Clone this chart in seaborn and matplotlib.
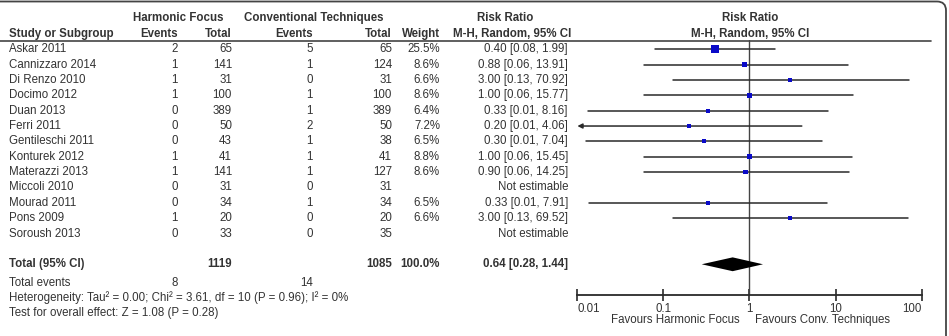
import numpy as np
import pandas as pd
import seaborn as sns
import matplotlib.pyplot as plt
from matplotlib import transforms
from matplotlib.patches import FancyBboxPatch
from matplotlib.lines import Line2D

# ---- data -------------------------------------------------------------------
studies = ["Askar 2011", "Cannizzaro 2014", "Di Renzo 2010", "Docimo 2012", "Duan 2013",
           "Ferri 2011", "Gentileschi 2011", "Konturek 2012", "Materazzi 2013", "Miccoli 2010",
           "Mourad 2011", "Pons 2009", "Soroush 2013"]
hf_events = [2, 1, 1, 1, 0, 0, 0, 1, 1, 0, 0, 1, 0]
hf_total = [65, 141, 31, 100, 389, 50, 43, 41, 141, 31, 34, 20, 33]
ct_events = [5, 1, 0, 1, 1, 2, 1, 1, 1, 0, 1, 0, 0]
ct_total = [65, 124, 31, 100, 389, 50, 38, 41, 127, 31, 34, 20, 35]
weight = [25.5, 8.6, 6.6, 8.6, 6.4, 7.2, 6.5, 8.8, 8.6, np.nan, 6.5, 6.6, np.nan]
rr = [0.40, 0.88, 3.00, 1.00, 0.33, 0.20, 0.30, 1.00, 0.90, np.nan, 0.33, 3.00, np.nan]
ci_low = [0.08, 0.06, 0.13, 0.06, 0.0134, 0.0098, 0.0128, 0.06, 0.06, np.nan, 0.0138, 0.13, np.nan]
ci_high = [1.99, 13.91, 70.92, 15.77, 8.16, 4.06, 7.04, 15.45, 14.25, np.nan, 7.91, 69.52, np.nan]

total_hf_n, total_ct_n = 1119, 1085
total_hf_ev, total_ct_ev = 8, 14
total_rr, total_low, total_high = 0.64, 0.28, 1.44

x_ticks = [0.01, 0.1, 1, 10, 100]
x_ticklabels = ["0.01", "0.1", "1", "10", "100"]

df = pd.DataFrame({"study": studies, "rr": rr, "lo": ci_low, "hi": ci_high, "w": weight})
df["row"] = np.arange(len(df))
total_row = len(df) + 1

# ---- style ------------------------------------------------------------------
sns.set_theme(style="white")
plt.rcParams["font.family"] = ["Liberation Sans", "DejaVu Sans"]
TXT = "#333333"
LINE = "#2a2a2a"
BLUE = "#0a0ac8"
W, H = 949, 336
FS = 8.3

fig = plt.figure(figsize=(W / 100, H / 100), dpi=100)
ax = fig.add_axes([577 / W, 1 - 295 / H, (921.7 - 577) / W, 255 / H])
ax.set_xscale("log")
ax.set_xlim(0.01, 100)
ax.set_ylim(16.0, -0.6)

# CI lines
est = df.dropna(subset=["rr"])
for _, r in est.iterrows():
    if r["lo"] < 0.01:
        ax.annotate("", xy=(0.0101, r["row"]), xytext=(r["hi"], r["row"]),
                    arrowprops=dict(arrowstyle="-|>", color=LINE, lw=1.1,
                                    mutation_scale=7, shrinkA=0, shrinkB=0))
    else:
        ax.plot([r["lo"], r["hi"]], [r["row"], r["row"]], color=LINE, lw=1.1)

# study squares sized by weight
sns.scatterplot(data=est, x="rr", y="row", size="w", sizes=(8, 31), size_norm=(6.4, 25.5),
                marker="s", color=BLUE, linewidth=0, legend=False, ax=ax, zorder=3)

# pooled diamond
dh = 0.45
ax.fill([total_low, total_rr, total_high, total_rr],
        [total_row, total_row - dh, total_row, total_row + dh], color="black", lw=0, zorder=3)

ax.axvline(1, color="#444444", lw=1.0, zorder=1)

for s in ["top", "left", "right"]:
    ax.spines[s].set_visible(False)
ax.spines["bottom"].set_color(LINE)
ax.spines["bottom"].set_linewidth(1.3)
ax.set_yticks([])
ax.set_xticks(x_ticks)
ax.set_xticklabels(x_ticklabels)
ax.minorticks_off()
ax.tick_params(axis="x", direction="inout", length=9, width=1.2, pad=1, labelsize=FS,
               colors=LINE, labelcolor=TXT, bottom=True)
labels = ax.get_xticklabels()
labels[0].set_horizontalalignment("left")
labels[-1].set_horizontalalignment("right")
ax.set_xlabel("")
ax.set_ylabel("")
ax.patch.set_alpha(0)

# ---- table text -------------------------------------------------------------
trans = transforms.blended_transform_factory(fig.transFigure, ax.transData)


def cell(x, row, s, ha="right", bold=False):
    fig.text(x / W, row, s, transform=trans, ha=ha, va="center", fontsize=FS,
             color=TXT, fontweight="bold" if bold else "normal")


def ftext(x, y, s, ha="left", bold=False):
    fig.text(x / W, 1 - y / H, s, ha=ha, va="center", fontsize=FS, color=TXT,
             fontweight="bold" if bold else "normal")


for i in range(len(df)):
    cell(9, i, studies[i], ha="left")
    cell(178, i, str(hf_events[i]))
    cell(232, i, str(hf_total[i]))
    cell(313, i, str(ct_events[i]))
    cell(392, i, str(ct_total[i]))
    if np.isnan(rr[i]):
        cell(568, i, "Not estimable")
    else:
        cell(440, i, f"{weight[i]:.1f}%")
        cell(568, i, f"{rr[i]:.2f} [{ci_low[i]:.2f}, {ci_high[i]:.2f}]")

cell(9, total_row, "Total (95% CI)", ha="left", bold=True)
cell(232, total_row, str(total_hf_n), bold=True)
cell(392, total_row, str(total_ct_n), bold=True)
cell(440, total_row, "100.0%", bold=True)
cell(568, total_row, f"{total_rr:.2f} [{total_low:.2f}, {total_high:.2f}]", bold=True)

ftext(9, 282.7, "Total events")
ftext(178, 282.7, str(total_hf_ev), ha="right")
ftext(313, 282.7, str(total_ct_ev), ha="right")
ftext(9, 297.7, "Heterogeneity: Tau² = 0.00; Chi² = 3.61, df = 10 (P = 0.96); I² = 0%")
ftext(9, 313.3, "Test for overall effect: Z = 1.08 (P = 0.28)")

# headers
ftext(178, 18, "Harmonic Focus", ha="center", bold=True)
ftext(314, 18, "Conventional Techniques", ha="center", bold=True)
ftext(505, 18, "Risk Ratio", ha="center", bold=True)
ftext(750, 18, "Risk Ratio", ha="center", bold=True)
ftext(9, 34, "Study or Subgroup", bold=True)
ftext(178, 34, "Events", ha="right", bold=True)
ftext(232, 34, "Total", ha="right", bold=True)
ftext(313, 34, "Events", ha="right", bold=True)
ftext(392, 34, "Total", ha="right", bold=True)
ftext(440, 34, "Weight", ha="right", bold=True)
ftext(571, 34, "M-H, Random, 95% CI", ha="right", bold=True)
ftext(750, 34, "M-H, Random, 95% CI", ha="center", bold=True)

ftext(740, 320, "Favours Harmonic Focus", ha="right")
ftext(755, 320, "Favours Conv. Techniques", ha="left")

# header rule and rounded frame
fig.add_artist(Line2D([0, 931 / W], [1 - 40.7 / H] * 2, transform=fig.transFigure,
                      color="#444444", lw=1.2))
fig.add_artist(FancyBboxPatch((-30, -30), 976, 364.5,
                              boxstyle="round,pad=0,rounding_size=9",
                              transform=transforms.IdentityTransform(),
                              fill=False, edgecolor="#444444", lw=1.3))

fig.savefig("out.png", dpi=100)
